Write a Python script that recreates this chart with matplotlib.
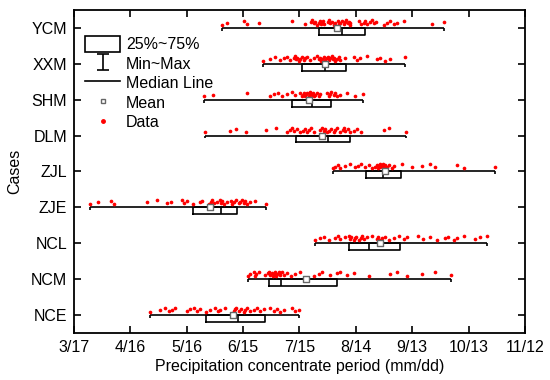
import matplotlib
matplotlib.use("Agg")
import matplotlib.pyplot as plt
from matplotlib.patches import Patch
from matplotlib.lines import Line2D

plt.rcParams['font.family'] = ['Liberation Sans', 'DejaVu Sans']

# cases from bottom to top
cases = ['NCE', 'NCM', 'NCL', 'ZJE', 'ZJL', 'DLM', 'SHM', 'XXM', 'YCM']

# box statistics in day of year
mins = [116.7, 168.5, 204.3, 84.3, 213.8, 145.6, 145.4, 176.6, 154.8]
q1s = [146.3, 180.0, 222.3, 139.1, 231.2, 194.2, 192.2, 197.5, 206.2]
meds = [163.5, 186.4, 233.0, 154.3, 240.6, 211.2, 202.8, 209.4, 218.8]
q3s = [177.7, 216.0, 249.6, 162.8, 250.1, 222.7, 212.8, 220.7, 231.0]
maxs = [195.8, 276.7, 295.7, 178.2, 300.1, 252.8, 229.8, 252.3, 273.0]
means = [160.7, 199.5, 238.6, 148.3, 241.3, 207.8, 201.0, 209.7, 216.0]

# individual data points (day of year)
nce = [116.7, 121.7, 124.2, 126.5, 128.3, 130.0, 136.2, 137.6, 139.8, 141.5,
       143.3, 146.0, 148.6, 151.3, 152.5, 153.9, 156.6, 161.0, 161.9, 162.4,
       163.7, 164.9, 166.3, 167.2, 168.1, 169.9, 171.7, 173.4, 175.2, 177.0,
       180.5, 182.3, 184.1, 185.8, 187.6, 192.0, 193.8, 195.8]
ncm = [168.5, 169.9, 171.7, 172.5, 173.1, 174.3, 177.9, 179.1, 179.6, 180.5,
       181.4, 181.9, 182.3, 183.2, 183.7, 184.1, 184.9, 185.5, 185.8, 186.7,
       187.6, 189.4, 191.5, 193.8, 196.5, 203.5, 206.2, 208.0, 212.4, 215.9,
       217.7, 221.3, 224.8, 232.8, 244.3, 247.8, 253.2, 261.1, 267.9, 276.7]
ncl = [204.3, 207.1, 209.2, 211.5, 215.1, 216.3, 217.7, 220.4, 222.1, 222.7,
       223.4, 224.8, 225.7, 226.2, 227.5, 228.7, 229.2, 230.1, 231.9, 234.6,
       237.2, 237.6, 238.6, 239.9, 241.6, 243.9, 246.1, 248.7, 251.4, 253.2,
       259.3, 262.0, 265.5, 269.1, 273.5, 275.3, 278.0, 279.7, 283.3, 289.5,
       292.1, 295.7]
zje = [84.3, 88.8, 95.8, 97.3, 115.0, 120.3, 125.6, 127.7, 133.6, 134.8,
       136.2, 139.2, 143.0, 144.2, 147.7, 149.0, 149.5, 150.4, 152.2, 153.6,
       154.3, 154.8, 156.1, 157.5, 159.3, 160.1, 161.0, 162.4, 163.7, 164.6,
       165.5, 166.7, 167.2, 168.1, 169.9, 172.5, 178.2]
zjl = [213.8, 215.1, 216.3, 217.7, 220.4, 222.7, 225.7, 227.0, 228.7, 231.0,
       232.8, 234.6, 236.3, 237.2, 237.6, 238.1, 238.6, 239.0, 239.9, 240.4,
       240.8, 241.6, 242.2, 242.5, 243.9, 245.2, 246.1, 250.5, 255.8, 261.1,
       265.5, 268.2, 279.7, 283.3, 300.1]
dlm = [145.6, 158.9, 162.4, 167.4, 178.4, 183.7, 189.4, 190.8, 192.0, 193.3,
       194.7, 196.5, 197.9, 199.1, 200.0, 200.9, 202.1, 203.5, 207.1, 208.0,
       208.9, 209.7, 210.6, 211.5, 212.8, 214.2, 215.1, 215.9, 217.7, 219.1,
       219.8, 220.4, 221.6, 223.0, 224.8, 226.6, 228.7, 240.8, 243.4, 252.8]
shm = [145.4, 150.0, 168.1, 180.5, 182.3, 184.4, 186.7, 189.4, 192.0, 193.8,
       196.5, 197.3, 197.9, 198.2, 199.1, 199.6, 200.0, 200.9, 201.4, 201.8,
       202.7, 203.2, 203.5, 204.4, 205.3, 206.2, 207.1, 210.6, 211.5, 212.1,
       212.8, 214.2, 215.1, 215.9, 217.7, 221.3, 225.7, 229.8]
xxm = [176.6, 180.5, 183.2, 185.8, 187.6, 189.4, 191.1, 192.9, 193.8, 194.3,
       194.7, 195.6, 196.5, 197.3, 198.2, 199.1, 200.0, 201.8, 203.5, 205.3,
       206.2, 207.1, 207.4, 208.0, 208.9, 209.7, 210.6, 211.0, 211.5, 212.4,
       213.3, 213.8, 214.2, 215.1, 215.9, 216.8, 217.7, 220.4, 224.8, 226.6,
       228.3, 231.9, 237.2, 239.0, 241.6, 244.3, 252.3]
ycm = [154.8, 157.5, 166.7, 168.1, 174.3, 192.0, 199.1, 202.1, 202.7, 203.5,
       204.4, 205.3, 206.2, 206.7, 207.4, 208.0, 208.5, 208.9, 211.0, 211.5,
       212.4, 213.3, 214.2, 215.1, 216.3, 216.8, 217.7, 218.6, 219.5, 220.4,
       220.9, 221.6, 222.1, 222.7, 223.0, 227.5, 228.7, 230.1, 231.0, 231.9,
       233.7, 234.6, 235.4, 236.8, 240.8, 242.5, 244.3, 246.1, 247.8, 251.4,
       266.4, 273.0]
points = [nce, ncm, ncl, zje, zjl, dlm, shm, xxm, ycm]

tick_days = [76, 106, 136, 166, 196, 226, 256, 286, 316]
tick_labels = ['3/17', '4/16', '5/16', '6/15', '7/15', '8/14', '9/13', '10/13', '11/12']

fs = 11.5

fig = plt.figure(figsize=(5.5, 3.8), dpi=100)
ax = fig.add_axes([0.1345, 0.1237, 0.82, 0.85])

pos = list(range(1, len(cases) + 1))
box_h = 0.19

stats = []
for i in range(len(cases)):
    stats.append({'whislo': mins[i], 'q1': q1s[i], 'med': meds[i],
                  'q3': q3s[i], 'whishi': maxs[i], 'fliers': []})

ax.bxp(stats, positions=[p - box_h / 2 for p in pos], widths=box_h,
       orientation='horizontal', showcaps=False, showfliers=False,
       boxprops=dict(color='black', linewidth=1.2),
       medianprops=dict(color='black', linewidth=1.2),
       whiskerprops=dict(linewidth=0), manage_ticks=False)

# whiskers and caps (caps hang down toward the box)
ax.hlines(pos, mins, maxs, color='black', linewidth=1.2)
ax.vlines(mins, [p - 0.08 for p in pos], pos, color='black', linewidth=1.2)
ax.vlines(maxs, [p - 0.08 for p in pos], pos, color='black', linewidth=1.2)

# means
ax.scatter(means, pos, marker='s', s=13, facecolor='white',
           edgecolor='#666666', linewidth=1.0, zorder=4)

# data points, slightly above the whisker line
for p, vals in zip(pos, points):
    ys = [p + 0.15 + ((k * 37) % 11 - 5) / 5 * 0.06 for k in range(len(vals))]
    ax.scatter(vals, ys, s=7, color='red', linewidth=0, zorder=3)

# dummy errorbar for legend handle
eb = ax.errorbar([0], [0], yerr=[1], fmt='none', ecolor='black',
                 capsize=4, elinewidth=1.2, capthick=1.2)

ax.set_xlim(76, 316)
ax.set_ylim(0.5, 9.5)
ax.set_xticks(tick_days)
ax.set_xticklabels(tick_labels)
ax.set_yticks(pos)
ax.set_yticklabels(cases)
ax.tick_params(direction='in', length=5, width=1.2, labelsize=fs,
               top=True, right=True, pad=5)
for s in ax.spines.values():
    s.set_linewidth(1.3)

ax.set_xlabel('Precipitation concentrate period (mm/dd)', fontsize=fs, labelpad=3)
ax.set_ylabel('Cases', fontsize=fs, labelpad=6)

handles = [
    Patch(facecolor='white', edgecolor='black', linewidth=1.2),
    eb,
    Line2D([], [], color='black', linewidth=1.2),
    Line2D([], [], ls='none', marker='s', mfc='white', mec='#666666', ms=3.5, mew=1.0),
    Line2D([], [], ls='none', marker='o', color='red', ms=2.5),
]
labels = ['25%~75%', 'Min~Max', 'Median Line', 'Mean', 'Data']
ax.legend(handles, labels, loc='upper left', bbox_to_anchor=(0.0, 0.955),
          frameon=False, fontsize=fs, handlelength=2.2, handleheight=1.15,
          labelspacing=0.2, handletextpad=0.35, borderaxespad=0.3)

fig.savefig('out.png', dpi=100)
